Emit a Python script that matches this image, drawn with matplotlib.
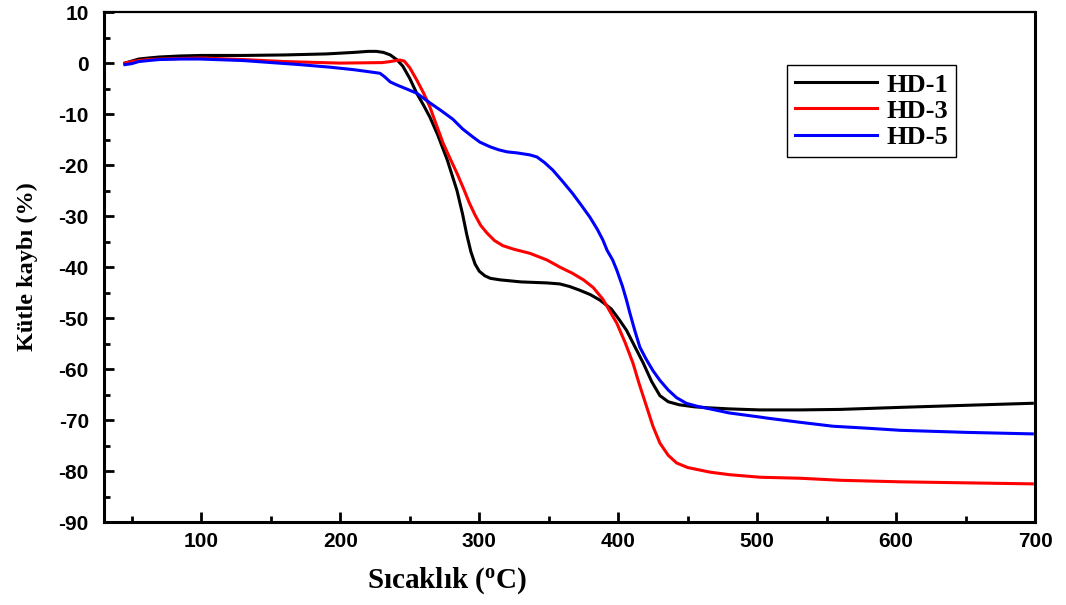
import numpy as np
import matplotlib.pyplot as plt
from matplotlib.ticker import MultipleLocator

# TGA curves (temperature in C, mass change in %)
t_hd1 = [45, 50, 55, 62, 70, 85, 100, 130, 160, 190, 210, 220, 226, 231, 236, 241, 245, 250, 255, 260, 264.5, 270,
         277, 284, 288, 291, 294, 297, 300, 304, 308, 315, 330, 348.7, 358, 365, 372, 380, 387, 395, 401, 406, 412,
         418, 424, 430, 436, 444, 455, 466, 480, 502, 531, 560, 603, 650, 698]
m_hd1 = [0, 0.4, 0.8, 1.0, 1.2, 1.4, 1.5, 1.5, 1.6, 1.8, 2.1, 2.3, 2.3, 2.1, 1.6, 0.6, -0.6, -3.0, -5.9, -8.3, -10.6, -14.0,
         -19, -25.0, -29.6, -33.6, -37.0, -39.4, -40.8, -41.7, -42.2, -42.5, -42.9, -43.1, -43.3, -43.8, -44.5, -45.4,
         -46.5, -48.2, -50.4, -52.4, -55.6, -58.8, -62.4, -65.2, -66.4, -67.0, -67.4, -67.6, -67.8, -68.0, -68.0,
         -67.9, -67.5, -67.1, -66.7]

t_hd3 = [45, 50, 55, 62, 70, 85, 100, 130, 160, 200, 230, 236, 240, 243, 246, 250, 255, 260, 264.5, 269, 274, 279,
         284, 289, 293, 297, 301, 305.5, 311, 317, 325, 336.5, 348.7, 358, 367, 375, 382, 389, 396, 399, 405, 410.6,
         415, 420.6, 425, 430, 436, 442, 450, 466, 480, 502, 531, 560, 603, 650, 698]
m_hd3 = [0, 0.3, 0.5, 0.7, 0.8, 0.9, 1.0, 0.7, 0.3, 0.0, 0.1, 0.3, 0.5, 0.6, 0.4, -0.9, -3.3, -5.9, -8.6, -12.0, -15.7,
         -18.7, -21.6, -24.8, -27.5, -29.8, -31.8, -33.3, -34.8, -35.8, -36.5, -37.3, -38.6, -40.0, -41.2, -42.5, -44.0,
         -46.3, -49.6, -51.0, -54.8, -58.8, -62.8, -67.5, -71.2, -74.5, -76.9, -78.4, -79.3, -80.2, -80.7, -81.2, -81.4,
         -81.8, -82.1, -82.3, -82.5]

t_hd5 = [45, 50, 55, 62, 70, 85, 99, 130, 171, 192.6, 210, 223.5, 228.6, 232, 236, 240.8, 248, 255, 264.5, 273, 281,
         288, 295.5, 300.5, 307.7, 314, 320, 327, 336.5, 341.5, 347, 353, 360, 367, 373, 379.6, 385, 389, 392, 396, 399,
         403, 406, 408.4, 412, 415.6, 420, 425, 430, 436, 442, 449, 457, 466, 480, 502, 507, 530, 554.5, 580, 603,
         650, 698]
m_hd5 = [-0.3, -0.1, 0.3, 0.5, 0.7, 0.8, 0.8, 0.5, -0.3, -0.8, -1.3, -1.8, -2.0, -2.7, -3.7, -4.3, -5.1, -5.9, -7.8,
         -9.4, -11.0, -12.9, -14.5, -15.5, -16.4, -17.0, -17.4, -17.6, -18.0, -18.4, -19.5, -21.0, -23.2, -25.5, -27.7,
         -30.2, -32.6, -34.7, -36.7, -38.6, -40.6, -43.7, -46.5, -49.0, -52.5, -55.7, -58.0, -60.3, -62.2, -64.1, -65.6,
         -66.7, -67.3, -67.8, -68.6, -69.4, -69.6, -70.4, -71.2, -71.6, -72.0, -72.4, -72.7]

labels = ['HD-1', 'HD-3', 'HD-5']
colors = ['black', 'red', 'blue']

plt.rcParams['axes.unicode_minus'] = False
plt.rcParams['mathtext.fontset'] = 'custom'
plt.rcParams['mathtext.rm'] = 'Liberation Serif:bold'
plt.rcParams['mathtext.bf'] = 'Liberation Serif:bold'

fig = plt.figure(figsize=(10.66, 6.05), dpi=100)
ax = fig.add_axes([0.0976, 0.137, 0.8734, 0.843])

for t, m, lab, c in zip([t_hd1, t_hd3, t_hd5], [m_hd1, m_hd3, m_hd5], labels, colors):
    ax.plot(t, m, color=c, lw=2.2, label=lab, solid_joinstyle='round')

ax.set_xlim(30, 700)
ax.set_ylim(-90, 10)
ax.xaxis.set_major_locator(MultipleLocator(100))
ax.xaxis.set_minor_locator(MultipleLocator(50))
ax.yaxis.set_major_locator(MultipleLocator(10))
ax.yaxis.set_minor_locator(MultipleLocator(5))
ax.tick_params(which='both', direction='in', width=2)
ax.tick_params(which='major', length=7)
ax.tick_params(which='minor', length=4)
ax.tick_params(axis='y', pad=11)
ax.tick_params(axis='x', pad=7)
for lab in ax.get_xticklabels() + ax.get_yticklabels():
    lab.set_family('Liberation Sans')
    lab.set_fontweight('bold')
    lab.set_fontsize(15)

for s in ['left', 'bottom', 'right']:
    ax.spines[s].set_linewidth(2.2)
ax.spines['top'].set_linewidth(1.6)

fig.text(0.419, 0.041, r'Sıcaklık ($\mathregular{^{o}}$C)', family='Liberation Serif',
         fontweight='bold', fontsize=21, ha='center', va='center')
fig.text(0.026, 0.56, 'Kütle kaybı (%)', family='Liberation Serif', fontweight='bold',
         fontsize=17.5, rotation=90, ha='center', va='center')

leg = ax.legend(loc='upper right', bbox_to_anchor=(0.915, 0.896), borderaxespad=0,
                prop={'family': 'Liberation Serif', 'weight': 'bold', 'size': 19},
                handlelength=3.1, handletextpad=0.35, labelspacing=0.1, borderpad=0.3,
                fancybox=False, edgecolor='black', framealpha=1)
leg.get_frame().set_linewidth(1.0)

plt.savefig('out.png', dpi=100)
